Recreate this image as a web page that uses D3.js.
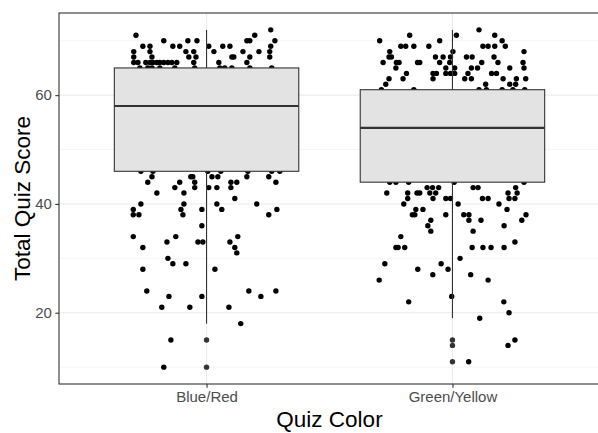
<!DOCTYPE html>
<html>
<head>
<meta charset="utf-8">
<script src="https://cdn.jsdelivr.net/npm/d3@7"></script>
<style>
  html, body { margin: 0; padding: 0; background: #ffffff; }
  svg { display: block; }
</style>
</head>
<body>
<svg id="chart" width="598" height="433"></svg>
<script>
// Quiz scores by quiz colour: jittered raw scores with a boxplot on top.
const categories = ["Blue/Red", "Green/Yellow"];

// Raw scores, grouped as [score, horizontal jitter offsets (in category steps)]
const blueRedRows = [
  [72, [0.261]],
  [71, [-0.287, 0.196]],
  [70, [-0.174, -0.076, -0.039, 0.164, 0.176, 0.278]],
  [69, [-0.259, -0.230, -0.137, -0.109, 0.009, 0.066, 0.095, 0.261]],
  [68, [-0.296, -0.230, -0.084, -0.052, 0.030, 0.148, 0.213, 0.257]],
  [67, [-0.296, -0.222, -0.072, -0.043, 0.103, 0.111, 0.176, 0.257]],
  [66, [-0.296, -0.279, -0.247, -0.230, -0.218, -0.202, -0.190, -0.174, -0.157, -0.141, -0.121, -0.052, 0.050, 0.164]],
  [65, [-0.271, -0.239, -0.222, -0.190, -0.129, -0.048, 0.054, 0.074, 0.103, 0.176, 0.265]],
  [46, [-0.267, -0.218, 0.005, 0.058, 0.168, 0.265, 0.298]],
  [45, [-0.222, -0.064, -0.056, 0.022, 0.046, 0.164, 0.253]],
  [44, [-0.239, -0.109, -0.048, 0.099, 0.123, 0.282]],
  [43, [-0.129, -0.048, 0.009, 0.042, 0.099]],
  [42, [-0.202, -0.092]],
  [41, [0.115]],
  [40, [-0.267, -0.092, 0.042, 0.204]],
  [39, [-0.298, -0.104, -0.019, 0.062, 0.286]],
  [38, [-0.298, -0.275, -0.096, 0.253]],
  [36, [-0.019]],
  [34, [-0.298, -0.125, 0.127]],
  [33, [-0.161, -0.035, -0.015, 0.095]],
  [32, [-0.259, 0.115]],
  [31, [0.123]],
  [30, [-0.157]],
  [29, [-0.137, -0.084]],
  [28, [-0.259, 0.034]],
  [24, [-0.243, 0.172, 0.282]],
  [23, [-0.153, -0.019, 0.221]],
  [21, [-0.182, -0.068, 0.091]],
  [18, [0.139]],
  [15, [-0.145]],
  [10, [-0.174]]
];

const greenYellowRows = [
  [72, [0.108]],
  [71, [-0.174, 0.016, 0.172]],
  [70, [-0.296, -0.052, 0.202]],
  [69, [-0.210, -0.190, -0.157, -0.096, 0.124, 0.145, 0.172, 0.215]],
  [68, [-0.255, 0.002, 0.291]],
  [67, [-0.258, -0.248, -0.069, -0.038, -0.008, 0.057, 0.080, 0.169]],
  [66, [-0.282, -0.228, -0.217, -0.142, -0.133, -0.052, -0.011, 0.119, 0.185, 0.287]],
  [65, [-0.230, -0.027, 0.009, 0.077, 0.102, 0.233, 0.291]],
  [64, [-0.187, -0.079, -0.065, -0.027, -0.008, 0.009, 0.063, 0.159, 0.179]],
  [63, [-0.258, -0.201, -0.079, 0.050, 0.077, 0.206, 0.260, 0.298]],
  [62, [-0.271, 0.135, 0.233, 0.257]],
  [61, [-0.289, -0.157, 0.108, 0.138, 0.202, 0.246, 0.294]],
  [44, [-0.255, -0.230, -0.178, 0.007, 0.291]],
  [43, [-0.103, -0.081, -0.056, 0.084, 0.104, 0.257]],
  [42, [-0.267, -0.182, -0.144, -0.133, -0.092, -0.068, 0.226, 0.263]],
  [41, [-0.182, -0.079, -0.027, -0.008, 0.122, 0.145, 0.230, 0.254]],
  [40, [-0.198, 0.023, 0.189]],
  [39, [-0.149, -0.120, 0.222]],
  [38, [-0.163, -0.153, -0.027, 0.046, 0.067, 0.299]],
  [37, [-0.088, 0.067, 0.116, 0.282]],
  [36, [-0.100, 0.210]],
  [35, [-0.088, 0.084]],
  [34, [-0.210]],
  [33, [0.254]],
  [32, [-0.230, -0.221, -0.194, 0.080, 0.124, 0.157, 0.210]],
  [30, [0.031]],
  [29, [-0.275, -0.046]],
  [28, [-0.141, -0.018]],
  [27, [-0.080, 0.074]],
  [26, [-0.298, 0.145]],
  [23, [-0.003]],
  [22, [-0.178, 0.209]],
  [20, [0.230]],
  [19, [0.111]],
  [15, [0.254]],
  [14, [0.226]],
  [11, [0.066]]
];

// Boxplot summaries per category (same order as categories)
const whiskerLow = [18, 19];
const lowerQuartile = [46, 44];
const medians = [58, 54];
const upperQuartile = [65, 61];
const whiskerHigh = [72, 72];
const outliers = [[15, 10], [15, 14, 11]];

const yMajorTicks = [20, 40, 60];
const yMinorTicks = [10, 30, 50, 70];
const yDomain = [6.9, 75.1];

const xTitle = "Quiz Color";
const yTitle = "Total Quiz Score";

// ---- layout ----
const svg = d3.select("#chart");
const panel = { left: 59, right: 600, top: 13, bottom: 384 };

const x = d3.scalePoint()
  .domain(categories)
  .range([panel.left, panel.right])
  .padding(0.6);
const step = x.step();

const y = d3.scaleLinear()
  .domain(yDomain)
  .range([panel.bottom, panel.top]);

svg.append("rect")
  .attr("width", 598).attr("height", 433)
  .attr("fill", "#ffffff");

const clip = svg.append("defs").append("clipPath").attr("id", "panel-clip");
clip.append("rect")
  .attr("x", panel.left).attr("y", panel.top)
  .attr("width", panel.right - panel.left)
  .attr("height", panel.bottom - panel.top);

const plot = svg.append("g").attr("clip-path", "url(#panel-clip)");

// grid
plot.append("g").selectAll("line")
  .data(yMinorTicks).join("line")
  .attr("x1", panel.left).attr("x2", panel.right)
  .attr("y1", d => y(d)).attr("y2", d => y(d))
  .attr("stroke", "#ebebeb").attr("stroke-width", 0.55);

plot.append("g").selectAll("line")
  .data(yMajorTicks).join("line")
  .attr("x1", panel.left).attr("x2", panel.right)
  .attr("y1", d => y(d)).attr("y2", d => y(d))
  .attr("stroke", "#ebebeb").attr("stroke-width", 1.1);

plot.append("g").selectAll("line")
  .data(categories).join("line")
  .attr("x1", d => x(d)).attr("x2", d => x(d))
  .attr("y1", panel.top).attr("y2", panel.bottom)
  .attr("stroke", "#ebebeb").attr("stroke-width", 1.1);

// jittered points
function flatten(cat, rows) {
  const pts = [];
  rows.forEach(([score, offs]) => offs.forEach(o => pts.push({ cat, score, off: o })));
  return pts;
}
const points = flatten(categories[0], blueRedRows).concat(flatten(categories[1], greenYellowRows));

plot.append("g").selectAll("circle")
  .data(points).join("circle")
  .attr("cx", d => x(d.cat) + d.off * step)
  .attr("cy", d => y(d.score))
  .attr("r", 2.7)
  .attr("fill", "#000000");

// boxplots
const boxes = categories.map((c, i) => ({
  cat: c, lo: whiskerLow[i], q1: lowerQuartile[i], med: medians[i],
  q3: upperQuartile[i], hi: whiskerHigh[i], out: outliers[i]
}));
const boxW = 0.75 * step;
const bg = plot.append("g").selectAll("g").data(boxes).join("g");

bg.append("line")
  .attr("x1", d => x(d.cat)).attr("x2", d => x(d.cat))
  .attr("y1", d => y(d.q3)).attr("y2", d => y(d.hi))
  .attr("stroke", "#333333").attr("stroke-width", 1.1);
bg.append("line")
  .attr("x1", d => x(d.cat)).attr("x2", d => x(d.cat))
  .attr("y1", d => y(d.q1)).attr("y2", d => y(d.lo))
  .attr("stroke", "#333333").attr("stroke-width", 1.1);
bg.append("rect")
  .attr("x", d => x(d.cat) - boxW / 2)
  .attr("width", boxW)
  .attr("y", d => y(d.q3))
  .attr("height", d => y(d.q1) - y(d.q3))
  .attr("fill", "#e3e3e3")
  .attr("stroke", "#333333").attr("stroke-width", 1.1);
bg.append("line")
  .attr("x1", d => x(d.cat) - boxW / 2).attr("x2", d => x(d.cat) + boxW / 2)
  .attr("y1", d => y(d.med)).attr("y2", d => y(d.med))
  .attr("stroke", "#333333").attr("stroke-width", 2.2);
bg.selectAll("circle")
  .data(d => d.out.map(v => ({ cat: d.cat, v })))
  .join("circle")
  .attr("cx", d => x(d.cat))
  .attr("cy", d => y(d.v))
  .attr("r", 2.7)
  .attr("fill", "#333333");

// panel border
svg.append("rect")
  .attr("x", panel.left).attr("y", panel.top)
  .attr("width", panel.right - panel.left)
  .attr("height", panel.bottom - panel.top)
  .attr("fill", "none")
  .attr("stroke", "#333333").attr("stroke-width", 1.1);

// axes
const font = "'Liberation Sans', Arial, sans-serif";

const yAxis = d3.axisLeft(y).tickValues(yMajorTicks).tickSize(3.7).tickPadding(3.5);
const yg = svg.append("g").attr("transform", `translate(${panel.left},0)`).call(yAxis);
yg.select(".domain").remove();
yg.selectAll(".tick line").attr("stroke", "#333333").attr("stroke-width", 1.1);
yg.selectAll(".tick text")
  .attr("fill", "#4d4d4d")
  .style("font-family", font).style("font-size", "15px");

const xAxis = d3.axisBottom(x).tickSize(3.7).tickPadding(4);
const xg = svg.append("g").attr("transform", `translate(0,${panel.bottom})`).call(xAxis);
xg.select(".domain").remove();
xg.selectAll(".tick line").attr("stroke", "#333333").attr("stroke-width", 1.1);
xg.selectAll(".tick text")
  .attr("fill", "#4d4d4d")
  .style("font-family", font).style("font-size", "15px");

svg.append("text")
  .attr("x", (panel.left + panel.right) / 2)
  .attr("y", 427)
  .attr("text-anchor", "middle")
  .attr("fill", "#000000")
  .style("font-family", font).style("font-size", "22.5px")
  .text(xTitle);

svg.append("text")
  .attr("transform", `translate(29.5,${(panel.top + panel.bottom) / 2}) rotate(-90)`)
  .attr("text-anchor", "middle")
  .attr("fill", "#000000")
  .style("font-family", font).style("font-size", "22.5px")
  .text(yTitle);
</script>
</body>
</html>
